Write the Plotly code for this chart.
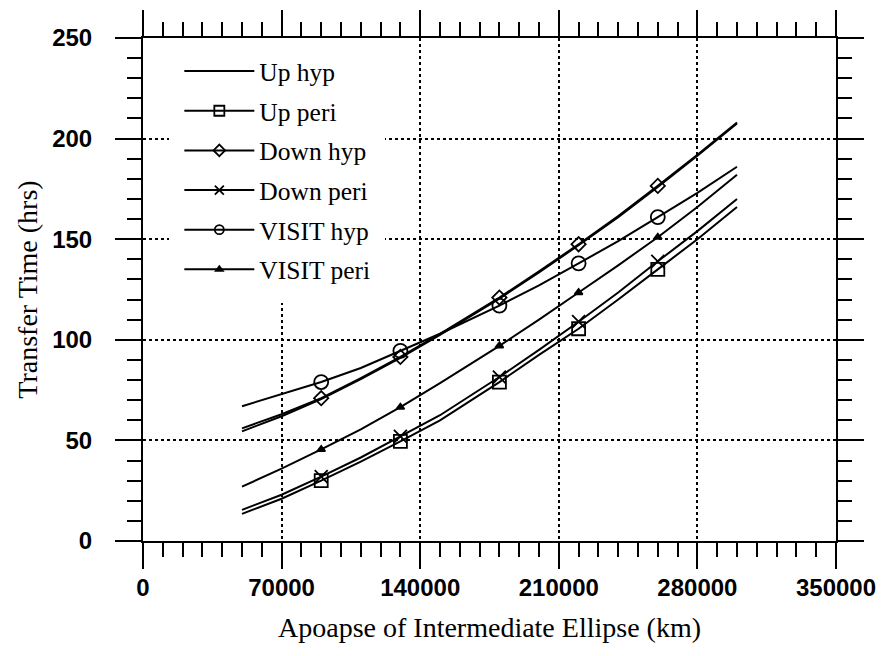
import plotly.graph_objects as go

# ---- data ----
apoapse_km = [50000, 70000, 90000, 110000, 130000, 150000, 180000, 200000,
              220000, 240000, 260000, 280000, 300000]
marker_km = [90000, 130000, 180000, 220000, 260000]

up_hyp = [54.5, 62.0, 70.5, 80.5, 91.0, 102.5, 120.5, 133.5, 147.0, 161.0, 176.0, 191.5, 207.5]
up_peri = [13.5, 21.0, 30.0, 39.5, 49.5, 60.0, 79.0, 92.5, 105.5, 120.0, 135.0, 150.0, 166.0]
down_hyp = [56.0, 63.0, 71.0, 81.0, 91.5, 103.0, 121.0, 134.0, 147.5, 161.5, 176.5, 192.0, 208.0]
down_peri = [15.5, 23.0, 32.0, 41.5, 52.0, 62.5, 81.5, 95.0, 109.0, 123.5, 139.0, 154.0, 170.0]
visit_hyp = [67.0, 73.0, 79.0, 86.0, 94.5, 103.0, 117.0, 127.0, 138.0, 149.0, 161.0, 173.0, 186.0]
visit_peri = [27.0, 36.0, 45.5, 55.5, 66.5, 78.5, 97.0, 110.0, 123.5, 137.0, 151.0, 166.0, 182.0]

series_names = ["Up hyp", "Up peri", "Down hyp", "Down peri", "VISIT hyp", "VISIT peri"]
series_values = [up_hyp, up_peri, down_hyp, down_peri, visit_hyp, visit_peri]

x_ticks = [0, 70000, 140000, 210000, 280000, 350000]
y_ticks = [0, 50, 100, 150, 200, 250]

# ---- styles ----
# (symbol, plot marker size, legend marker size)
styles = {
    "Up hyp": None,
    "Up peri": ("square-open", 13, 10),
    "Down hyp": ("diamond-open", 11, 9),
    "Down peri": ("x-thin-open", 13, 9),
    "VISIT hyp": ("circle-open", 14, 9),
    "VISIT peri": ("triangle-up", 7, 6),
}

fig = go.Figure()
idx = [apoapse_km.index(m) for m in marker_km]

for name, vals in zip(series_names, series_values):
    fig.add_trace(go.Scatter(
        x=apoapse_km, y=vals, mode="lines", showlegend=False,
        line=dict(color="black", width=2), hoverinfo="skip"))
    st = styles[name]
    if st is not None:
        sym, ms, lms = st
        fig.add_trace(go.Scatter(
            x=[apoapse_km[i] for i in idx], y=[vals[i] for i in idx],
            mode="markers", showlegend=False,
            marker=dict(symbol=sym, size=ms, color="black",
                        line=dict(color="black", width=1.8))))
        fig.add_trace(go.Scatter(
            x=[None], y=[None], mode="lines+markers", name=name, legendgroup=name,
            line=dict(color="black", width=2),
            marker=dict(symbol=sym, size=lms, color="black",
                        line=dict(color="black", width=1.8))))
    else:
        fig.add_trace(go.Scatter(
            x=[None], y=[None], mode="lines", name=name, legendgroup=name,
            line=dict(color="black", width=2)))

axis_common = dict(
    showline=True, linecolor="black", linewidth=2, mirror="ticks",
    ticks="outside", ticklen=26, tickwidth=2, tickcolor="black",
    showgrid=True, gridcolor="black", gridwidth=1.5, griddash="dot",
    zeroline=False,
    tickfont=dict(family="Liberation Sans", size=24, color="black", weight="bold"),
)

fig.update_xaxes(
    range=[0, 350000], tickmode="array", tickvals=x_ticks,
    ticktext=[str(v) for v in x_ticks],
    minor=dict(ticks="outside", ticklen=14, tickwidth=2, tickcolor="black",
               dtick=10000, tick0=0, showgrid=False),
    title=dict(text="Apoapse of Intermediate Ellipse (km)",
               font=dict(family="Liberation Serif", size=28, color="black"),
               standoff=18),
    ticklabelstandoff=-2,
    **axis_common)
fig.update_yaxes(
    range=[0, 250], tickmode="array", tickvals=y_ticks,
    ticktext=[str(v) for v in y_ticks],
    minor=dict(ticks="outside", ticklen=14, tickwidth=2, tickcolor="black",
               dtick=10, tick0=0, showgrid=False),
    title=dict(text="Transfer Time (hrs)",
               font=dict(family="Liberation Serif", size=28, color="black"),
               standoff=6),
    ticklabelstandoff=18,
    **axis_common)

fig.update_layout(
    width=882, height=656,
    margin=dict(l=143, r=46, t=38, b=115, autoexpand=False),
    paper_bgcolor="white", plot_bgcolor="white",
    showlegend=True,
    legend=dict(x=0.038, y=1.0, xanchor="left", yanchor="top",
                bgcolor="white", bordercolor="white", borderwidth=10,
                itemwidth=70, tracegroupgap=3.5, traceorder="grouped",
                font=dict(family="Liberation Serif", size=25.5, color="black")),
)

fig.write_html("out.html")
